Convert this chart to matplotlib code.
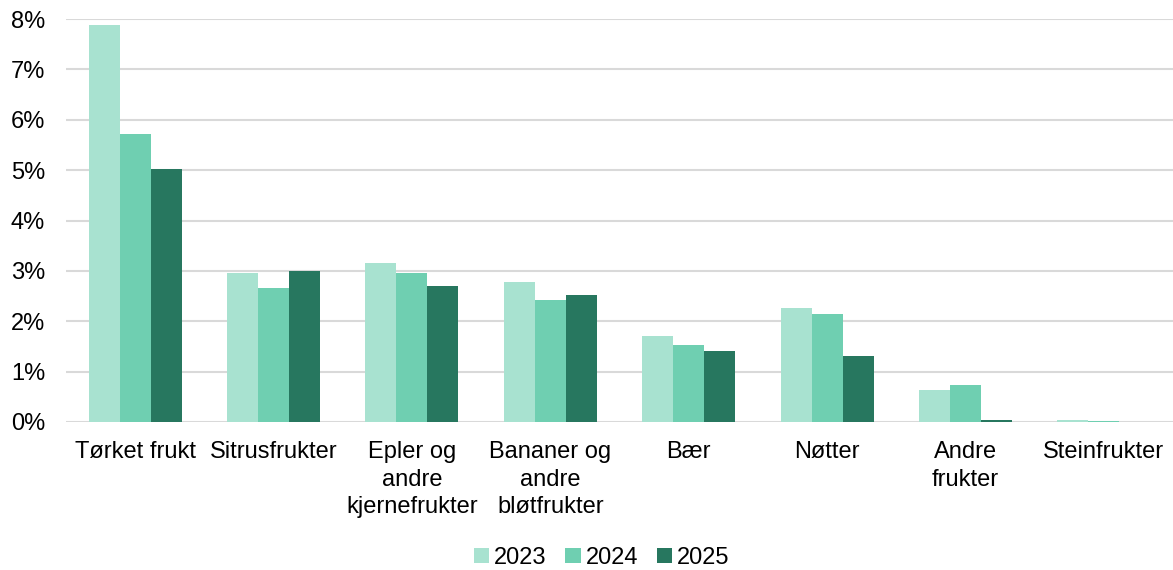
import matplotlib.pyplot as plt
import numpy as np
from matplotlib.ticker import FuncFormatter

plt.rcParams['font.family'] = ['Liberation Sans', 'DejaVu Sans']

categories = ['Tørket frukt', 'Sitrusfrukter', 'Epler og\nandre\nkjernefrukter',
              'Bananer og\nandre\nbløtfrukter', 'Bær', 'Nøtter', 'Andre\nfrukter',
              'Steinfrukter']
years = ['2023', '2024', '2025']
v2023 = [7.88, 2.96, 3.15, 2.78, 1.71, 2.26, 0.63, 0.04]
v2024 = [5.71, 2.66, 2.96, 2.42, 1.53, 2.14, 0.73, 0.02]
v2025 = [5.02, 3.00, 2.70, 2.52, 1.41, 1.31, 0.04, 0.00]
colors = ['#a8e2d0', '#6fcfb1', '#27775f']

fig = plt.figure(figsize=(11.73, 5.70), dpi=100)
ax = fig.add_axes([66 / 1173, 1 - 422 / 570, 1 - 66 / 1173, (422 - 19) / 570])

x = np.arange(len(categories))
w = 0.224
for i, (vals, yr) in enumerate(zip([v2023, v2024, v2025], years)):
    ax.bar(x + (i - 1) * w, vals, width=w, color=colors[i], label=yr, zorder=3)

fs = 17
ax.set_xlim(-0.5, len(categories) - 0.5)
ax.set_ylim(0, 8)
ax.set_yticks(range(0, 9))
ax.yaxis.set_major_formatter(FuncFormatter(lambda v, p: f'{int(v)}%'))
ax.grid(axis='y', color='#d9d9d9', linewidth=1.5, zorder=0)
ax.set_xticks(x)
ax.set_xticklabels(categories, fontsize=fs, linespacing=1.32, va='top')
ax.tick_params(axis='y', labelsize=fs, length=0, pad=15)
ax.tick_params(axis='x', length=0, pad=14)
for s in ax.spines.values():
    s.set_visible(False)

fig.legend(loc='lower center', bbox_to_anchor=(0.513, -0.035), ncol=3, frameon=False,
           fontsize=fs, handlelength=0.65, handleheight=0.65, handletextpad=0.2,
           columnspacing=0.8)

fig.savefig('out.png', dpi=100)
